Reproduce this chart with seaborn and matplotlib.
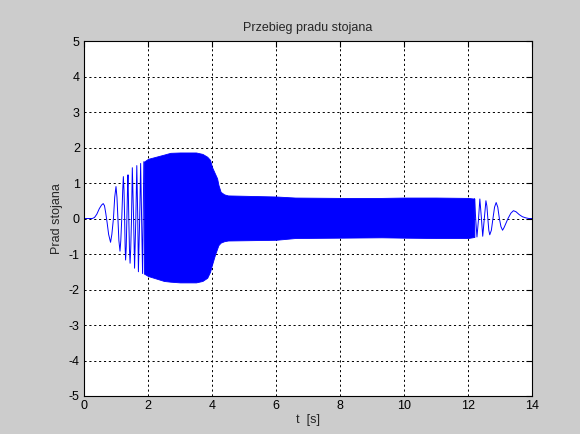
import matplotlib
matplotlib.use("Agg")
import matplotlib.pyplot as plt
import seaborn as sns
import pandas as pd

# ---- data ----
# resolvable oscillation at the start (time s, current)
start_t = [0.0, 0.26, 0.33, 0.40, 0.48, 0.55, 0.60, 0.64, 0.68, 0.72, 0.77, 0.83, 0.87,
           0.92, 0.96, 1.00, 1.03, 1.06, 1.09, 1.125, 1.15, 1.18, 1.21, 1.23, 1.25, 1.27,
           1.285, 1.30, 1.32, 1.34, 1.36, 1.375, 1.40, 1.42, 1.44, 1.46, 1.485, 1.51, 1.55,
           1.58, 1.62, 1.65, 1.68, 1.70, 1.74, 1.77, 1.80, 1.83, 1.87]
start_i = [0.0, 0.0, 0.03, 0.12, 0.28, 0.38, 0.42, 0.36, 0.15, -0.10, -0.45, -0.67, -0.45,
           0.0, 0.60, 0.90, 0.60, 0.0, -0.62, -0.92, -0.62, 0.0, 0.80, 1.18, 0.80, 0.0,
           -0.80, -1.17, -0.80, 0.0, 0.85, 1.23, 0.0, -0.85, -1.26, -0.85, 0.0, 1.43, 0.0,
           -1.40, 0.0, 1.49, 0.0, -1.50, 0.0, 1.55, 0.0, -1.55, 1.60]

# envelope of the dense (unresolved) part
env_t = [1.87, 2.0, 2.5, 2.7, 3.0, 3.5, 3.7, 3.85, 3.94, 4.0, 4.1, 4.16, 4.2, 4.27, 4.38,
         4.5, 6.0, 6.6, 8.0, 9.3, 10.0, 11.0, 12.0, 12.2]
env_hi = [1.60, 1.68, 1.80, 1.85, 1.86, 1.86, 1.82, 1.74, 1.65, 1.45, 1.25, 1.13, 0.95,
          0.75, 0.68, 0.65, 0.62, 0.59, 0.58, 0.58, 0.59, 0.59, 0.58, 0.56]
env_lo = [-1.55, -1.62, -1.76, -1.78, -1.80, -1.80, -1.76, -1.67, -1.50, -1.30, -1.00,
          -0.85, -0.75, -0.68, -0.64, -0.62, -0.60, -0.55, -0.54, -0.53, -0.54, -0.55,
          -0.55, -0.52]

# resolvable oscillation at the end
end_t = [12.2, 12.24, 12.28, 12.33, 12.37, 12.42, 12.46, 12.51, 12.56, 12.59, 12.62,
         12.65, 12.68, 12.73, 12.78, 12.83, 12.88, 12.93, 12.98, 13.03, 13.08, 13.13,
         13.25, 13.34, 13.42, 13.50, 13.60, 13.70, 13.80, 13.90, 14.0]
end_i = [0.56, 0.0, -0.52, 0.0, 0.55, 0.0, -0.50, 0.0, 0.50, 0.35, 0.0,
         -0.33, -0.46, -0.33, 0.0, 0.32, 0.45, 0.32, 0.0, -0.23, -0.33, -0.25,
         0.0, 0.15, 0.22, 0.19, 0.11, 0.05, 0.02, 0.0, 0.0]

x_ticks = [0, 2, 4, 6, 8, 10, 12, 14]
y_ticks = [-5, -4, -3, -2, -1, 0, 1, 2, 3, 4, 5]

# ---- style ----
sns.set_style("white")
plt.rcParams['font.family'] = ['Liberation Sans', 'DejaVu Sans']
plt.rcParams['font.size'] = 8.5

fig = plt.figure(figsize=(5.8, 4.34), dpi=100, facecolor='#cccccc')
ax = fig.add_axes([84 / 580, 1 - 396 / 434, (532 - 84) / 580, (396 - 41) / 434])
ax.set_facecolor('white')

blue = (0, 0, 1)
df_start = pd.DataFrame({'t': start_t, 'i': start_i})
df_end = pd.DataFrame({'t': end_t, 'i': end_i})
sns.lineplot(data=df_start, x='t', y='i', sort=False, color=blue, lw=0.7, ax=ax,
             estimator=None)
sns.lineplot(data=df_end, x='t', y='i', sort=False, color=blue, lw=0.7, ax=ax,
             estimator=None)
ax.fill_between(env_t, env_lo, env_hi, color=blue, lw=0.6, edgecolor=blue)

ax.set_xlim(0, 14)
ax.set_ylim(-5, 5)
ax.set_xticks(x_ticks)
ax.set_yticks(y_ticks)
ax.set_xticklabels([str(v) for v in x_ticks])
ax.set_yticklabels([str(v) for v in y_ticks])
ax.tick_params(direction='in', length=4, width=0.8, color='black', labelcolor='black',
               top=True, right=True, labelsize=9, pad=3)
ax.grid(True, color='black', linestyle=(0, (2.2, 2.8)), lw=0.7)
for s in ax.spines.values():
    s.set_color('black')
    s.set_linewidth(0.8)
    s.set_visible(True)

ax.set_title('Przebieg pradu stojana', fontsize=9, pad=7)
ax.set_xlabel('t  [s]', fontsize=9, labelpad=1)
ax.set_ylabel('Prad stojana', fontsize=9, labelpad=4)

fig.savefig('out.png', dpi=100, facecolor=fig.get_facecolor())
